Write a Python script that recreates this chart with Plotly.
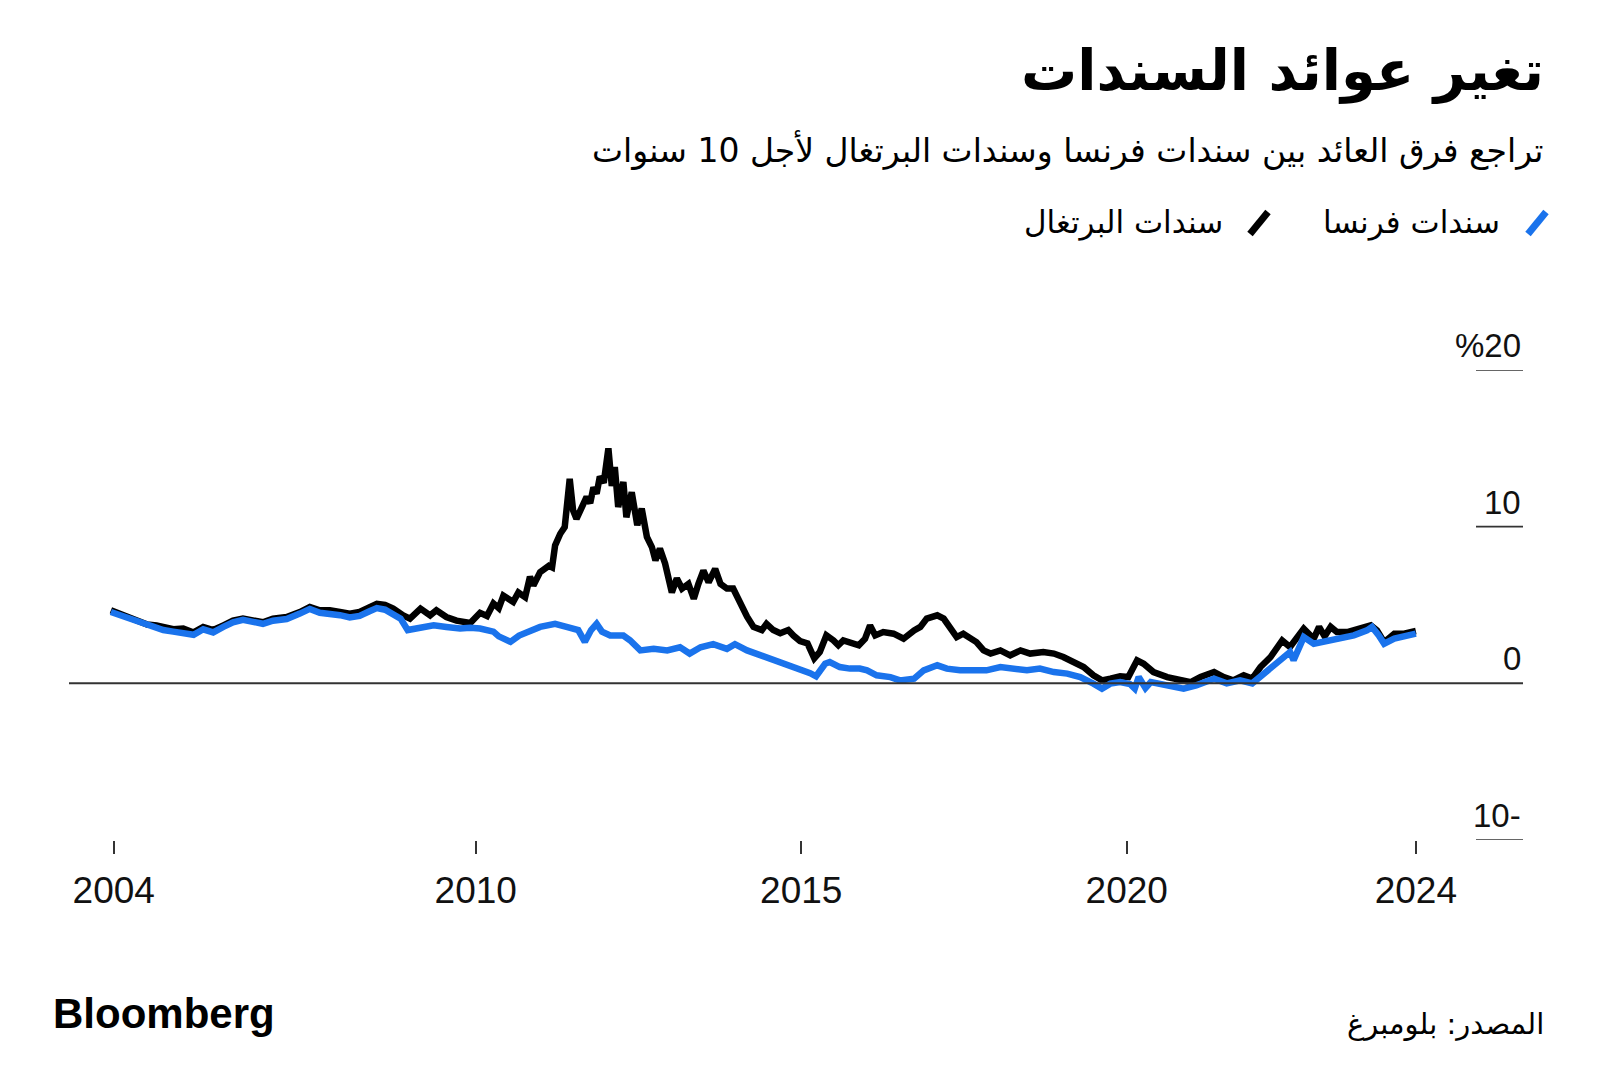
import plotly.graph_objects as go

# ---- data ----
portugal_dates = [
    "2004-05-25","2004-07-15","2004-09-25","2004-12-15","2005-02-05","2005-03-15","2005-05-10",
    "2005-07-05","2005-09-01","2005-10-25","2005-12-20","2006-02-15","2006-04-10","2006-06-05",
    "2006-08-01","2006-09-25","2006-11-20","2007-02-05","2007-04-20","2007-06-15","2007-08-10",
    "2007-10-05","2007-12-01","2008-01-25","2008-03-20","2008-05-15","2008-06-25","2008-08-10",
    "2008-09-25","2008-11-20","2008-12-28","2009-02-25","2009-04-20","2009-05-25","2009-07-20",
    "2009-09-15","2009-12-01","2010-01-25","2010-03-05","2010-04-10","2010-05-10","2010-06-05",
    "2010-07-30","2010-08-28","2010-10-05","2010-11-01","2010-11-20","2010-12-28","2011-02-15",
    "2011-03-05","2011-03-22","2011-04-20","2011-05-15","2011-06-12","2011-07-01","2011-07-20",
    "2011-08-18","2011-09-15","2011-10-05","2011-10-23","2011-11-10","2011-11-28","2011-12-20",
    "2012-01-15","2012-02-03","2012-02-20","2012-03-10","2012-04-08","2012-04-25","2012-05-25",
    "2012-06-25","2012-07-20","2012-08-18","2012-09-15","2012-10-05","2012-10-30","2012-11-28",
    "2013-01-05","2013-02-02","2013-03-03","2013-04-08","2013-05-08","2013-06-03","2013-07-01",
    "2013-07-30","2013-09-05","2013-10-05","2013-11-10","2013-12-15","2014-01-22","2014-03-03",
    "2014-04-08","2014-05-25","2014-06-20","2014-07-28","2014-09-05","2014-10-20","2014-11-18",
    "2014-12-25","2015-02-05","2015-03-15","2015-04-15","2015-05-22","2015-07-01","2015-07-28",
    "2015-08-25","2015-10-20","2015-11-20","2015-12-25","2016-01-22","2016-02-20","2016-04-05",
    "2016-06-02","2016-07-28","2016-09-25","2016-10-30","2016-12-05","2017-02-02","2017-03-10",
    "2017-04-15","2017-05-22","2017-06-28","2017-08-05","2017-09-10","2017-10-20","2017-11-28",
    "2018-01-22","2018-03-18","2018-05-15","2018-07-08","2018-09-20","2018-11-18","2019-01-10",
    "2019-03-08","2019-05-04","2019-06-28","2019-08-15","2019-10-01","2019-11-25","2020-01-10",
    "2020-02-28","2020-04-05","2020-05-30","2020-08-15","2020-10-28","2020-12-25","2021-02-18",
    "2021-05-05","2021-06-28","2021-08-20","2021-10-18","2021-12-05","2022-01-20","2022-03-18",
    "2022-05-22","2022-07-05","2022-09-20","2022-11-15","2022-12-15","2023-01-15","2023-02-18",
    "2023-03-25","2023-05-22","2023-08-05","2023-10-01","2023-11-05","2023-12-15","2024-02-10",
    "2024-04-05","2024-06-10",
]
portugal_values = [
    4.66,4.45,4.13,3.75,3.70,3.60,3.45,
    3.50,3.25,3.60,3.40,3.70,4.00,4.13,
    4.00,3.90,4.13,4.23,4.55,4.87,4.66,
    4.66,4.55,4.45,4.55,4.87,5.08,5.00,
    4.77,4.34,4.13,4.77,4.34,4.66,4.23,
    4.00,3.85,4.50,4.30,5.10,4.80,5.60,
    5.20,5.80,5.50,6.80,6.25,7.10,7.50,
    7.40,8.80,9.55,9.97,13.06,11.04,10.50,
    11.25,11.90,11.50,12.50,12.10,13.20,12.80,
    15.00,12.60,13.80,11.25,12.85,10.60,12.20,
    10.10,11.15,9.35,8.70,7.85,8.60,7.65,
    5.80,6.70,6.05,6.35,5.40,6.35,7.20,
    6.45,7.30,6.35,6.05,6.05,5.10,4.25,
    3.60,3.40,3.80,3.40,3.20,3.40,3.05,
    2.70,2.55,1.60,2.00,3.06,2.74,2.43,
    2.74,2.53,2.43,2.85,3.70,3.06,3.27,
    3.17,2.85,3.38,3.60,4.13,4.34,4.13,
    3.60,2.95,3.17,2.85,2.63,2.10,1.90,
    2.10,1.79,2.10,1.90,2.00,1.90,1.68,
    1.36,1.04,0.51,0.19,0.30,0.45,0.40,
    1.47,1.25,0.72,0.40,0.19,0.08,0.40,
    0.72,0.40,0.19,0.51,0.30,1.04,1.68,
    2.74,2.32,3.49,2.85,3.60,3.00,3.60,
    3.27,3.27,3.49,3.70,3.38,2.63,3.17,
    3.17,3.34,
]

france_dates = [
    "2004-05-25","2004-07-15","2004-09-25","2004-12-15","2005-02-05","2005-03-15","2005-05-10",
    "2005-07-05","2005-09-01","2005-10-25","2005-12-20","2006-02-15","2006-04-10","2006-06-05",
    "2006-08-01","2006-09-25","2006-11-20","2007-02-05","2007-04-20","2007-06-15","2007-08-10",
    "2007-10-05","2007-12-01","2008-01-25","2008-03-20","2008-05-15","2008-06-25","2008-08-10",
    "2008-09-25","2008-11-05","2008-12-15","2009-02-25","2009-05-10","2009-07-20","2009-10-05",
    "2009-12-01","2010-01-25","2010-04-10","2010-05-10","2010-07-15","2010-09-01","2010-12-28",
    "2011-03-22","2011-05-25","2011-07-30","2011-09-05","2011-10-10","2011-11-10","2011-12-10",
    "2012-01-25","2012-04-08","2012-05-15","2012-07-12","2012-09-25","2012-12-10","2013-02-20",
    "2013-04-15","2013-06-15","2013-08-25","2013-11-10","2013-12-25","2014-03-03","2014-05-15",
    "2014-07-28","2014-10-10","2014-12-25","2015-02-20","2015-03-25","2015-05-15","2015-06-10",
    "2015-08-05","2015-10-01","2015-11-25","2016-01-05","2016-02-28","2016-05-15","2016-07-08",
    "2016-09-25","2016-11-18","2017-02-02","2017-03-28","2017-06-10","2017-08-25","2017-11-05",
    "2018-01-22","2018-04-08","2018-06-20","2018-09-01","2018-11-18","2019-02-01","2019-04-15",
    "2019-06-28","2019-08-15","2019-10-01","2019-11-25","2020-01-20","2020-02-15","2020-03-08",
    "2020-04-15","2020-05-15","2020-08-15","2020-11-15","2021-01-25","2021-05-05","2021-07-15",
    "2021-09-28","2021-12-05","2022-02-10","2022-04-05","2022-05-22","2022-07-05","2022-07-25",
    "2022-09-20","2022-11-15","2023-02-01","2023-04-15","2023-06-28","2023-09-10","2023-10-08",
    "2023-11-15","2023-12-15","2024-02-10","2024-04-05","2024-06-10",
]
france_values = [
    4.55,4.35,4.05,3.65,3.55,3.40,3.30,
    3.25,3.10,3.45,3.25,3.60,3.90,4.05,
    3.95,3.80,4.00,4.10,4.45,4.75,4.50,
    4.45,4.35,4.20,4.30,4.60,4.80,4.70,
    4.45,4.13,3.40,3.60,3.70,3.60,3.50,
    3.55,3.50,3.30,3.00,2.65,3.05,3.60,
    3.80,3.60,3.40,2.65,3.40,3.80,3.30,
    3.05,3.05,2.75,2.10,2.20,2.10,2.30,
    1.90,2.30,2.50,2.20,2.50,2.10,1.80,
    1.45,1.25,0.88,0.65,0.45,1.25,1.36,
    1.04,0.94,0.94,0.83,0.51,0.40,0.19,
    0.30,0.83,1.15,0.94,0.83,0.83,0.83,
    1.04,0.94,0.83,0.94,0.72,0.62,0.40,
    -0.02,-0.34,-0.02,0.08,-0.05,-0.34,0.40,
    -0.30,0.08,-0.13,-0.34,-0.13,0.30,0.00,
    0.19,0.00,0.62,1.04,1.58,2.00,1.47,
    2.95,2.53,2.74,2.85,3.06,3.38,3.60,
    3.06,2.53,2.85,2.95,3.17,
]

x_tick_vals = ["2004-06-10", "2010-01-01", "2015-01-01", "2020-01-01", "2024-06-10"]
x_tick_text = ["2004", "2010", "2015", "2020", "2024"]
y_tick_vals = [20, 10, 0, -10]
y_tick_text = ["%20", "10", "0", "10-"]

title_text = "تغير عوائد السندات"
subtitle_text = "تراجع فرق العائد بين سندات فرنسا وسندات البرتغال لأجل 10 سنوات"
legend_france = "سندات فرنسا"
legend_portugal = "سندات البرتغال"
source_text = "المصدر: بلومبرغ"

BLUE = "#1a73ec"
BLACK = "#000000"
AR_FONT = "DejaVu Sans, Noto Sans, sans-serif"
NUM_FONT = "Liberation Sans, Arial, sans-serif"

fig = go.Figure()
fig.add_trace(go.Scatter(x=portugal_dates, y=portugal_values, mode="lines",
                         line=dict(color=BLACK, width=6.5), name=legend_portugal))
fig.add_trace(go.Scatter(x=france_dates, y=france_values, mode="lines",
                         line=dict(color=BLUE, width=6.5), name=legend_france))

# page offset of the plot div (browser body margin)
OFF = 8
W, H = 1584, 1076
L = 69 - OFF
T = 370 - OFF
PR = 1523 - OFF   # plot right edge, figure px
PB = 840 - OFF    # plot bottom edge, figure px
R = W - PR
B = H - PB
pw, ph = PR - L, PB - T

def px(xp):
    return (xp - OFF - L) / pw

def py(yp):
    return (PB - (yp - OFF)) / ph

shapes = []
annotations = []
for v, t in zip(y_tick_vals, y_tick_text):
    if v == 0:
        shapes.append(dict(type="line", xref="paper", yref="y", x0=0, x1=1, y0=v, y1=v,
                           line=dict(color="#333333", width=2)))
    else:
        shapes.append(dict(type="line", xref="paper", yref="y", x0=px(1476), x1=1, y0=v, y1=v,
                           line=dict(color="#333333", width=1.6)))
    annotations.append(dict(xref="paper", yref="y", x=1, y=v, text=t, showarrow=False,
                            xanchor="right", yanchor="bottom", yshift=4,
                            font=dict(family=NUM_FONT, size=33, color="#111111")))

# title, subtitle
annotations.append(dict(xref="paper", yref="paper", x=px(1546), y=py(71), text="<b>" + title_text + "</b>",
                        showarrow=False, xanchor="right", yanchor="middle",
                        font=dict(family=AR_FONT, size=56, color="#000000")))
annotations.append(dict(xref="paper", yref="paper", x=px(1546), y=py(150), text=subtitle_text,
                        showarrow=False, xanchor="right", yanchor="middle",
                        font=dict(family=AR_FONT, size=33, color="#000000")))
# legend
annotations.append(dict(xref="paper", yref="paper", x=px(1502), y=py(222), text=legend_france,
                        showarrow=False, xanchor="right", yanchor="middle",
                        font=dict(family=AR_FONT, size=31, color="#000000")))
annotations.append(dict(xref="paper", yref="paper", x=px(1225), y=py(222), text=legend_portugal,
                        showarrow=False, xanchor="right", yanchor="middle",
                        font=dict(family=AR_FONT, size=31, color="#000000")))
shapes.append(dict(type="line", xref="paper", yref="paper", x0=px(1528), y0=py(234), x1=px(1546), y1=py(212),
                   line=dict(color=BLUE, width=7)))
shapes.append(dict(type="line", xref="paper", yref="paper", x0=px(1250), y0=py(234), x1=px(1268), y1=py(212),
                   line=dict(color=BLACK, width=7)))
# footer
annotations.append(dict(xref="paper", yref="paper", x=px(51), y=py(1013), text="<b>Bloomberg</b>",
                        showarrow=False, xanchor="left", yanchor="middle",
                        font=dict(family=NUM_FONT, size=42, color="#000000")))
annotations.append(dict(xref="paper", yref="paper", x=px(1546), y=py(1024), text=source_text,
                        showarrow=False, xanchor="right", yanchor="middle",
                        font=dict(family=AR_FONT, size=29, color="#000000")))

fig.update_layout(
    width=W, height=H,
    margin=dict(l=L, r=R, t=T, b=B, pad=0),
    paper_bgcolor="white", plot_bgcolor="white",
    showlegend=False,
    shapes=shapes, annotations=annotations,
    xaxis=dict(type="date", range=["2003-10-03", "2026-02-01"],
               tickvals=x_tick_vals, ticktext=x_tick_text,
               ticks="outside", ticklen=13, tickwidth=1.6, tickcolor="#333333",
               showgrid=False, zeroline=False, showline=False,
               tickfont=dict(family=NUM_FONT, size=37, color="#111111"),
               ticklabelstandoff=5),
    yaxis=dict(range=[-10, 20], showgrid=False, zeroline=False, showline=False,
               showticklabels=False, ticks=""),
)

fig.write_html("out.html")
